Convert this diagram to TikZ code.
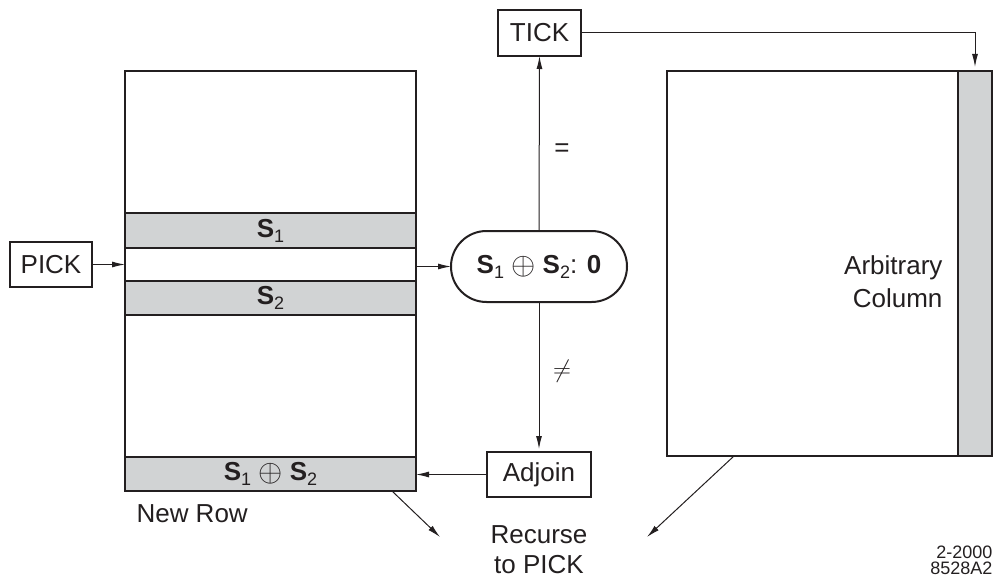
\documentclass[tikz,border=0pt]{standalone}
\usepackage{fontspec}
\setmainfont{Liberation Sans}
\usetikzlibrary{arrows.meta,shapes.misc,calc}
\definecolor{bandgray}{RGB}{209,211,212}
\definecolor{ink}{RGB}{35,31,32}
\newcommand\Ssub[1]{\textbf{S}\raisebox{-5pt}{\fontsize{18}{18}\selectfont #1}}
\newcommand\xor{\raisebox{-1pt}{\scalebox{1.25}{$\oplus$}}}
\begin{document}
\begin{tikzpicture}[x=1pt,y=-1pt,
  font=\fontsize{26}{30}\selectfont, color=ink,
  matbox/.style={draw=ink, line width=2.5pt, fill=white, inner sep=0pt, outer sep=0pt},
  bandbox/.style={draw=ink, line width=2.5pt, fill=bandgray, inner sep=0pt, outer sep=0pt},
  labbox/.style={draw=ink, line width=2pt, fill=white, inner sep=0pt, outer sep=0pt},
  arr/.style={draw=ink, line width=1pt, -{Latex[length=13pt,width=6pt]}}]
\useasboundingbox (0,0) rectangle (997,578);

% left matrix
\node[matbox, minimum width=291pt, minimum height=420pt] (lm) at (270.5,281) {};
\node[bandbox, minimum width=291pt, minimum height=35pt] (s1) at (270.5,230.5) {\Ssub{1}};
\node[bandbox, minimum width=291pt, minimum height=34pt] (s2) at (270.5,298) {\Ssub{2}};
\node[bandbox, minimum width=291pt, minimum height=34pt] (nr) at (270.5,474) {\Ssub{1} \xor{} \Ssub{2}};
\node[anchor=west] (newrow) at (133,514) {New Row};

% PICK
\node[labbox, minimum width=82pt, minimum height=45pt] (pick) at (51,264.5) {PICK};
\draw[arr] (pick.east) -- (pick.east -| lm.west);

% decision
\node[draw=ink, line width=2pt, rounded rectangle, minimum width=176pt, minimum height=71pt, inner sep=0pt, outer sep=0pt] (dec) at (539,266.5) {\Ssub{1} \xor{} \Ssub{2}: \textbf{0}};
\draw[arr] (dec.west -| lm.east) -- (dec.west);

% TICK
\node[labbox, minimum width=83pt, minimum height=46pt] (tick) at (539.5,33) {TICK};
\draw[arr] (dec.north) -- (tick.south);
\node (eq) at (562,150) {=};

% Adjoin
\node[labbox, minimum width=104pt, minimum height=45pt] (adj) at (539,474.5) {Adjoin};
\draw[arr, shorten >=3pt] (dec.south) -- (adj.north);
\node (neq) at (562,371) {$\neq$};
\draw[arr] (adj.west) -- (adj.west -| nr.east);

% right matrix
\node[matbox, minimum width=291pt, minimum height=385pt] (rm) at (812.5,263.5) {};
\node[bandbox, minimum width=34pt, minimum height=385pt] (col) at (975,263.5) {};
\node[anchor=east, align=right, font=\fontsize{26}{33}\selectfont] (arbcol) at (946,282) {Arbitrary\\Column};
\draw[arr, shorten >=4pt] (tick.east) -| (col.north);

% recurse
\node[align=center, font=\fontsize{26}{30}\selectfont] (rec) at (539,550) {Recurse\\to PICK};
\coordinate (r1) at (440,537);
\coordinate (r2) at (647,537);
\draw[arr] ([xshift=-24pt]nr.south east) -- (r1);
\draw[arr] ([xshift=67pt]rm.south west) -- (r2);

% figure id
\node[anchor=east, align=right, font=\fontsize{18}{16}\selectfont] (fid) at (996,560) {2-2000\\8528A2};
\end{tikzpicture}
\end{document}
